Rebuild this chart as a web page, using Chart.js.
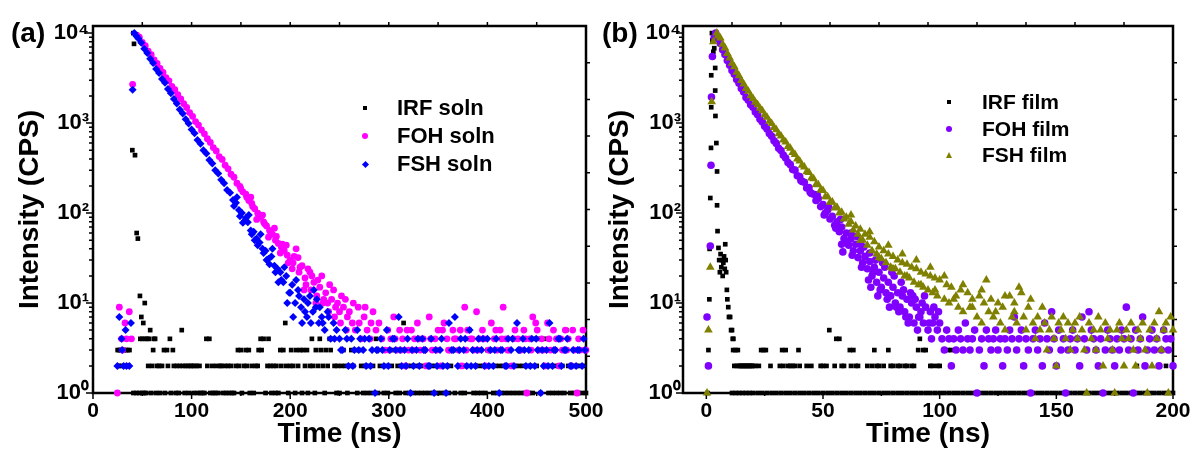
<!DOCTYPE html>
<html>
<head>
<meta charset="utf-8">
<title>Decay curves</title>
<script src="https://cdn.jsdelivr.net/npm/chart.js@4.4.1/dist/chart.umd.min.js"></script>
<style>
  html, body { margin: 0; padding: 0; background: #fff; }
  body { position: relative; width: 1193px; height: 451px; overflow: hidden;
         font-family: 'Liberation Sans', Arial, sans-serif; font-weight: bold; color: #000; }
  .box { position: absolute; top: 0; height: 451px; }
  #boxA { left: 0; width: 620px; }
  #boxB { left: 596px; width: 597px; }
  .panel { position: absolute; top: 17px; font-size: 28px; line-height: 32px; }
  .legend { position: absolute; }
  .legend div { position: relative; white-space: nowrap; }
  .legend i { position: absolute; top: 50%; display: block; }
  .sq { width: 4px; height: 4px; background: #000; margin-top: -2px; left: 8px; }
  .ci { width: 6px; height: 6px; border-radius: 50%; margin-top: -3px; left: 7px; }
  .di { width: 5px; height: 5px; transform: rotate(45deg); margin-top: -2.5px; left: 7.5px; }
  .tr { width: 0; height: 0; border-left: 3.5px solid transparent; border-right: 3.5px solid transparent;
        border-bottom: 6px solid #808000; margin-top: -3px; left: 6.5px; }
</style>
</head>
<body>
<div class="box" id="boxA"><canvas id="chartA"></canvas></div>
<div class="box" id="boxB"><canvas id="chartB"></canvas></div>

<div class="panel" style="left:11px">(a)</div>
<div class="panel" style="left:602px">(b)</div>

<div class="legend" style="left:355px; top:94px; font-size:22px">
  <div style="height:28px; line-height:28px; padding-left:42px"><i class="sq"></i>IRF soln</div>
  <div style="height:28px; line-height:28px; padding-left:42px"><i class="ci" style="background:#ff00ff"></i>FOH soln</div>
  <div style="height:28px; line-height:28px; padding-left:42px"><i class="di" style="background:#0000ff"></i>FSH soln</div>
</div>
<div class="legend" style="left:939px; top:89px; font-size:21px">
  <div style="height:26.5px; line-height:26.5px; padding-left:43px"><i class="sq"></i>IRF film</div>
  <div style="height:26.5px; line-height:26.5px; padding-left:43px"><i class="ci" style="background:#8000ff"></i>FOH film</div>
  <div style="height:26.5px; line-height:26.5px; padding-left:43px"><i class="tr"></i>FSH film</div>
</div>

<script>
// ---- data: [time (ns), counts] ----

// (a) solution
const irfSoln = [
  [25,3],[26,2],[27,3],[28,3],[29,2],[30,3],[31,3],[33,3],[34,2],[35,3],[36,2],[37,3],
  [39.9,500],[40.9,10000],[41.6,7600],[42.6,440],[44.3,60],[45.5,52],[47.6,12],[49,7],[51,6],[52.5,10],
  [48,4],[50,4],[53,4],[55,4],[58,5],[62,4],[41,1],[44,1],[47,1],[50,1],[52,1],
  [54,1],[56,2],[57,4],[59,1],[60,2],[61,3],[63,4],[64,1],[65,2],[67,2],[68,1],[70,2],[72,3],[73,1],[75,3],
  [76,2],[78,4],[79,1],[81,3],[82,2],[84,1],[85,2],[87,1],[88,2],[90,5],[91,2],[93,1],[94,2],[96,2],[97,1],
  [99,2],[100,2],[102,1],[103,2],[105,2],[106,1],[108,2],[109,1],[111,1],[113,1],[115,4],[116,2],[118,4],
  [119,1],[121,2],[122,1],[124,1],[125,2],[127,1],[129,2],[130,2],[132,1],[134,2],[135,1],[137,2],[138,1],
  [140,2],[141,1],[143,1],[145,2],[147,3],[148,2],[150,3],[151,1],[153,2],[155,3],[156,2],[158,3],[159,1],
  [161,2],[163,1],[165,2],[167,2],[168,3],[170,4],[171,3],[173,4],[175,1],[177,2],[178,4],[180,2],[181,1],
  [183,2],[185,1],[186,2],[188,1],[190,3],[191,2],[193,3],[195,6],[196,2],[198,1],[200,2],[201,3],[203,2],
  [205,1],[206,3],[208,2],[210,3],[212,1],[213,3],[215,2],[217,3],[218,1],[220,2],[222,4],[223,2],[225,1],
  [226,3],[228,2],[230,4],[231,3],[233,2],[235,1],[236,3],[238,2],[240,4],[241,3],[243,4],[245,2],[247,1],
  [248,2],[250,1],[252,2],[254,3],[256,2],[258,1],[260,2],[262,3],[264,2],[266,3],[268,1],[270,3],[272,2],
  [274,1],[276,2],[278,1],[280,2],[282,1],[284,2],[287,4],[289,1],[291,2],[293,4],[295,1],[297,2],[299,1],
  [301,3],[303,2],[305,3],[307,1],[309,2],[311,1],[313,2],[315,6],[317,1],[319,2],[321,1],[323,2],[325,1],
  [327,2],[329,1],[331,2],[333,1],[335,2],[337,1],[339,2],[341,1],[343,2],[345,1],[347,2],[349,1],[351,2],
  [353,1],[355,2],[357,1],[359,2],[361,1],[363,2],[365,3],[367,1],[369,3],[371,2],[373,1],[375,2],[377,1],
  [379,2],[381,4],[382,5],[384,4],[386,1],[388,2],[390,1],[392,2],[394,1],[396,2],[398,1],[400,3],[402,2],
  [404,3],[406,1],[408,2],[410,1],[412,2],[414,1],[416,2],[418,1],[420,2],[422,1],[424,2],[426,1],[428,2],
  [430,1],[432,2],[434,1],[436,2],[438,1],[440,2],[442,1],[444,2],[446,1],[448,4],[450,2],[452,4],[454,1],
  [456,3],[458,4],[460,2],[462,1],[464,2],[466,1],[468,2],[470,1],[472,2],[474,1],[476,2],[478,1],[480,5],
  [482,2],[484,1],[486,2],[488,1],[490,2],[492,1],[494,2],[496,1],[498,2],[500,1]
];

const fohSoln = [
  [24.7,1],[26.7,9],[29,4],[30,3],[32.5,6],[34,4],[36.8,8],[39,4],[40.2,2700],
  [44.3,9500],[47,9000],[50,7900],[53,7250],[56,6300],[59,5750],[62,5050],[65,4600],[68,4050],[71,3650],
  [74,3200],[77,2950],[80,2550],[83,2350],[86,2070],[89,1860],[92,1640],[95,1490],[98,1310],[101,1190],
  [104,1040],[107,950],[110,840],[113,760],[116,670],[119,610],[122,535],[125,490],[128,425],[131,395],
  [134,340],[137,310],[140,270],[143,250],[146,215],[149,198],[152,172],[155,162],[158,138],[161,128],
  [164,112],[167,100],[170,90],[173,80],[176,72],[179,64],[182,58],[185,50],[188,46],[191,42],[194,38],
  [197,34],[200,30],[203,28],[206,40],[209,22],[212,26],[215,19],[218,24],[221,14],[224,17],[227,12],
  [230,15],[233,10],[236,13],[239,8],[242,11],[245,7],[248,10],[251,6],[254,9],[257,5],[260,8],[263,6],
  [266,5],[269,9],[272,4],[275,7],[278,5],[281,4],[284,8],[287,5],[290,6],[293,4],[296,3],
  [150,185],[156,150],[162,118],[168,96],[174,76],[180,62],[186,55],[192,45],[198,28],[204,33],[210,25],
  [216,16],[222,20],[228,18],[234,11],[240,16],[246,9],[252,12],[258,7],[264,10],[270,6],[276,9],[282,6],
  [160,150],[166,85],[172,95],[178,54],[184,68],[190,36],[196,44],[202,24],[208,32],[214,14],[220,22],
  [226,10],[232,20],[238,10],[244,14],[250,8],[256,11],
  [299,5],[302,4],[305,7],[308,3],[311,5],[314,4],[317,2],[320,3],[323,5],[326,4],[329,6],[332,3],[335,4],
  [338,2],[341,7],[344,3],[347,4],[350,5],[353,2],[356,6],[359,4],[362,3],[365,5],[368,4],[371,3],[374,2],
  [377,9],[380,5],[383,4],[386,3],[389,8],[392,4],[395,5],[398,2],[401,3],[404,6],[407,4],[410,3],[413,5],
  [416,9],[419,4],[422,3],[425,2],[428,5],[431,4],[434,3],[437,5],[440,1],[443,4],[446,7],[449,6],[452,3],
  [455,4],[458,2],[461,6],[464,3],[467,5],[470,4],[473,2],[476,3],[479,5],[482,4],[485,2],[488,3],[491,1],
  [494,3],[497,5],[500,3],
  [300.5,3],[306.5,4],[312.5,3],[318.5,5],[324.5,3],[330.5,4],[336.5,3],[342.5,4],[348.5,3],[354.5,5],
  [360.5,3],[366.5,4],[372.5,5],[378.5,3],[384.5,4],[390.5,3],[396.5,4],[402.5,3],[408.5,5],[414.5,4],
  [420.5,3],[426.5,4],[432.5,3],[438.5,4],[444.5,3],[450.5,5],[456.5,3],[462.5,4],[468.5,3],[474.5,4],
  [480.5,3],[486.5,5],[492.5,4],[498.5,3]
];

const fshSoln = [
  [24.7,2],[26.7,7],[29,4],[29.6,3],[31,2],[33,5],[34,2],[36.8,2],[38.5,6],[40.2,2350],
  [41.9,10000],[44,9300],[46,8700],[49,7800],[52,6700],[55,6000],[58,5200],[61,4650],[64,4000],[67,3600],
  [70,3100],[73,2800],[76,2400],[79,2150],[82,1850],[85,1650],[88,1420],[91,1280],[94,1100],[97,990],
  [100,850],[103,770],[106,650],[109,590],[112,500],[115,460],[118,390],[121,355],[124,300],[127,275],
  [130,235],[133,215],[136,180],[139,168],[142,140],[145,130],[148,108],[151,100],[154,82],[157,79],
  [160,64],[163,62],[166,52],[169,47],[172,40],[175,38],[178,31],[181,33],[184,26],[187,24],[190,22],
  [193,17],[196,20],[199,13],[202,16],[205,10],[208,14],[211,9],[214,11],[217,7],[220,12],[223,8],[226,9],
  [229,6],[232,7],[235,5],[238,8],[241,4],[244,6],[247,5],
  [143,120],[149,92],[155,88],[161,58],[167,44],[173,36],[179,27],[185,22],[191,18],[197,10],[203,7],
  [209,12],[215,8],[221,6],[227,11],[233,6],[239,7],[245,4],
  [146,150],[152,78],[158,95],[164,50],[170,58],[176,30],[182,40],[188,17],[194,25],[200,13],[206,18],
  [212,6],[218,10],[224,14],[230,9],
  [250,4],[253,3],[256,5],[259,2],[262,4],[265,3],[268,5],[271,4],[274,3],[277,2],[280,4],[283,3],[286,1],
  [289,3],[292,4],[295,2],[298,5],[301,3],[304,4],[307,3],[310,7],[313,2],[316,3],[319,4],[322,1],[325,2],
  [328,3],[331,2],[334,4],[337,3],[340,2],[343,4],[346,1],[349,2],[352,3],[355,2],[358,1],[361,6],[364,3],
  [367,7],[370,2],[373,4],[376,3],[379,2],[382,5],[385,3],[388,2],[391,4],[394,3],[397,2],[400,4],[403,3],
  [406,2],[409,4],[412,1],[415,3],[418,2],[421,4],[424,3],[427,2],[430,6],[433,3],[436,4],[439,2],[442,3],
  [445,4],[448,2],[451,3],[454,1],[457,2],[460,3],[463,6],[466,2],[469,3],[472,4],[475,2],[478,3],[481,4],
  [484,2],[487,3],[490,2],[493,3],[496,2],[499,3],
  [251.5,3],[257.5,4],[263.5,2],[269.5,3],[275.5,4],[281.5,2],[287.5,3],[293.5,3],[299.5,2],[305.5,4],
  [311.5,3],[317.5,2],[323.5,3],[329.5,4],[335.5,3],[341.5,2],[347.5,3],[353.5,4],[359.5,2],[365.5,3],
  [371.5,3],[377.5,4],[383.5,2],[389.5,3],[395.5,4],[401.5,2],[407.5,3],[413.5,3],[419.5,2],[425.5,4],
  [431.5,3],[437.5,3],[443.5,2],[449.5,4],[455.5,3],[461.5,2],[467.5,3],[473.5,4],[479.5,3],[485.5,2],
  [491.5,3],[497.5,4]
];

// (b) film
const irfFilm = [
  [0.5,1],[0.9,3],[1.3,11],[1.4,40],[1.7,147],[2.0,530],[2.1,1500],[2.1,3400],[2.4,10000],[2.6,8300],
  [3.0,6200],[3.4,6800],[3.8,4100],[3.8,2300],[3.9,1200],[4.3,600],[4.6,290],[4.6,122],[4.8,63],[5.2,41],
  [5.5,30],[5.8,22],[6.1,35],[6.4,25],[6.7,30],[7.0,20],[7.3,28],[7.6,33],[7.9,24],[8.1,45],[8.3,30],
  [8.5,22],[8.8,14],[9.0,11],[9.4,9],[9.7,7],[10.2,7],[10.6,5],[11,5],[11.3,4],[11.6,4],
  [11.5,3],[12,2],[12.5,3],[13,2],[13.5,3],[14,2],[14.5,2],[15,2],[15.5,2],[16,2],[16.5,2],[17,2],
  [17.5,2],[18,2],[18.5,2],[19,2],[19.5,2],[20,2],[21,2],[22.5,2],[23.5,3],[24.5,3],[25.5,3],[27.5,2],
  [31.5,2],[32.5,3],[33,2],[34,3],[35,2],[36,2],[37,2],[38,2],[39.5,3],[40,2],[43,2],[45,2],[49,2],[50,2],
  [51.5,2],[52.7,5],[55,2],[55.7,4],[57,4],[58,2],[59,2],[61.5,3],[62,2],[63,3],[64,2],[65,2],[69,2],
  [71,2],[72,3],[73,2],[74,2],[76,2],[78,3],[79,2],[80,2],[82,2],[83,2],[85,2],[86,2],[88,2],[89,2],
  [90.8,3],[91.5,4],[93,3],[94,3],[96,2],[97,2],[99,2],[100,2],[103.6,3],[105,3],[135.6,2],[184,3],
  [184.5,2],[197,2],
  [11,1],[12.5,1],[14,1],[15.5,1],[17,1],[18.5,1],[20,1],[22,1],[24,1],[26,1],[28,1],[30,1],[32,1],
  [34,1],[36,1],[38,1],[40,1],[42,1],[44,1],[46,1],[48,1],[50,1],[52,1],[54,1],[56,1],[58,1],[60,1],
  [62,1],[64,1],[66,1],[68,1],[70,1],[72,1],[74,1],[76,1],[78,1],[80,1],[82,1],[84,1],[86,1],[88,1],
  [90,1],[92,1],[94,1],[96,1],[98,1],[100,1],[102,1],[104,1],[106,1],[108,1],[110,1],[112,1],[114,1],
  [116,1],[118,1],[120,1],[122,1],[124,1],[126,1],[128,1],[130,1],[132,1],[134,1],[136,1],[138,1],
  [140,1],[142,1],[144,1],[146,1],[148,1],[150,1],[152,1],[154,1],[156,1],[158,1],[160,1],[162,1],
  [164,1],[166,1],[168,1],[170,1],[172,1],[174,1],[176,1],[178,1],[180,1],[182,1],[184,1],[186,1],
  [188,1],[190,1],[192,1],[194,1],[196,1],[198,1],[200,1]
];

const fohFilm = [
  [0.3,7],[0.9,2],[1.7,43],[2.0,340],[2.2,1950],[2.6,5500],[3.4,9000],
  [4,10000],[5,8600],[6,7650],[7,6550],[8,5800],[9,4950],[10,4400],[11,3850],[12,3500],[13,3050],
  [14,2780],[15,2420],[16,2210],[17,1920],[18,1800],[19,1600],[20,1500],[21,1330],[22,1240],[23,1100],
  [24,1030],[25,920],[26,860],[27,765],[28,715],[29,635],[30,595],[31,525],[32,495],[33,440],[34,410],
  [35,365],[36,345],[37,305],[38,300],[39,260],[40,255],[41,225],[42,220],[43,190],[44,192],[45,165],
  [46,162],[47,138],[48,145],[49,118],[50,124],[51,100],[52,108],[53,86],[54,92],[55,73],[56,80],[57,62],
  [58,70],[59,52],[60,60],[61,44],[62,52],[63,38],[64,45],[65,32],[66,38],[67,28],[68,33],[69,24],[70,29],
  [71,20],[72,25],[73,17],[74,22],[75,15],[76,19],[77,13],[78,17],[79,12],[80,15],[81,10],[82,13],[83,9],
  [84,12],[85,8],[86,11],[87,7],[88,10],[89,6],[90,9],[91,7],[92,8],[93,6],[94,9],[95,5],[96,8],[97,6],
  [98,7],[99,5],[100,6],
  [40.5,230],[44.5,170],[47.5,160],[50.5,95],[52.5,115],[55.5,68],[57.5,85],[58.5,37],[60.5,48],
  [62.5,34],[64.5,55],[66.5,25],[67.5,42],[69.5,18],[70.5,15],[72.5,30],[74.5,14],[76.5,25],[78.5,9],
  [80.5,20],[82.5,8],[84.5,14],[86.5,6],[88.5,12],[90.5,5],[92.5,10],[96.5,4],
  [58,45],[62,60],[66,45],[70,36],[71.5,22],[73.5,12],[75.5,28],[77.5,11],[79.5,22],[81.5,9],[83.5,17],
  [85.5,7],[87.5,13],[89.5,11],[91.5,7],[93.5,12],[95.5,6],[97.5,9],[99.5,8],
  [101,4],[102,3],[103,5],[104,4],[105,2],[106,4],[107,3],[108,5],[109,4],[110,3],[111,6],[112,4],[113,3],
  [114,4],[115,5],[116,1],[117,3],[118,4],[119,2],[120,5],[121,4],[122,3],[123,4],[124,5],[125,3],[126,4],
  [127,2],[128,4],[129,3],[130,5],[131,4],[132,7],[133,3],[134,4],[135,5],[136,2],[137,4],[138,3],[139,1],
  [140,4],[141,5],[142,3],[143,4],[144,2],[145,6],[146,4],[147,3],[148,8],[149,4],[150,2],[151,5],[152,3],
  [153,4],[154,1],[155,3],[156,4],[157,5],[158,3],[159,4],[160,2],[161,7],[162,4],[163,3],[164,8],[165,5],
  [166,4],[167,3],[168,2],[169,4],[170,1],[171,3],[172,5],[173,4],[174,3],[175,2],[176,4],[177,3],[178,5],
  [179,4],[180,9],[181,3],[182,4],[183,1],[184,5],[185,3],[186,4],[187,7],[188,2],[189,3],[190,4],[191,5],
  [192,3],[193,4],[194,2],[195,3],[196,5],[197,4],[198,3],[199,4],[200,2]
];

const fshFilm = [
  [0.3,1],[0.9,5],[1.7,25],[2.3,1730],[3.0,8000],[4.5,10000],
  [5,9300],[6,8800],[7,7500],[8,6850],[9,5950],[10,5300],[11,4620],[12,4230],[13,3680],[14,3350],
  [15,2980],[16,2720],[17,2420],[18,2260],[19,2010],[20,1880],[21,1710],[22,1600],[23,1460],[24,1370],
  [25,1240],[26,1165],[27,1050],[28,990],[29,895],[30,845],[31,760],[32,720],[33,650],[34,615],[35,550],
  [36,525],[37,470],[38,447],[39,398],[40,380],[41,340],[42,325],[43,288],[44,282],[45,245],[46,240],
  [47,208],[48,206],[49,180],[50,178],[51,152],[52,152],[53,132],[54,133],[55,114],[56,116],[57,100],
  [58,102],[59,86],[60,90],[61,75],[62,80],[63,65],[64,72],[65,58],[66,66],[67,50],[68,58],[69,44],
  [70,54],[71,38],[72,48],[73,35],[74,42],[75,31],[76,38],[77,28],[78,35],[79,25],[80,33],[81,24],
  [82,30],[83,22],[84,28],[85,20],[86,27],[87,19],[88,25],[89,17],[90,24],[91,16],[92,22],[93,15],
  [94,21],[95,14],[96,20],[97,13],[98,19],[99,12],[100,18],
  [62,95],[66,50],[70,62],[74,32],[78,44],[80,24],[84,35],[86,20],[90,30],[92,16],[96,25],[98,14],
  [102,20],[106,11],[110,16],[114,9],[118,14],[120,18],[124,8],[128,12],[132,10],[134,15],[139,11],
  [102,11],[103,16],[104,10],[105,15],[107,12],[108,9],[109,14],[110,8],[112,13],[113,9],[114,11],
  [116,7],[117,12],[118,6],[119,10],[121,8],[122,11],[123,7],[125,10],[126,6],[127,9],[128,5],[130,12],
  [131,7],[132,8],[133,6],[135,13],[136,7],[137,5],[138,9],
  [140,6],[141,4],[142,7],[143,5],[144,9],[145,6],[146,3],[147,5],[148,7],[149,4],[150,2],[151,6],
  [152,5],[153,7],[154,4],[155,6],[156,3],[157,5],[158,6],[159,4],[160,7],[161,5],[162,3],[163,1],
  [164,6],[165,4],[166,5],[167,3],[168,7],[169,5],[170,2],[171,6],[172,4],[173,5],[174,3],[175,1],
  [176,5],[177,6],[178,4],[179,2],[180,5],[181,4],[182,6],[183,3],[184,2],[185,5],[186,4],[187,6],
  [188,3],[189,1],[190,5],[191,2],[192,6],[193,4],[194,8],[195,3],[196,5],[197,6],[198,1],[199,7],[200,5]
];

// axes
const yTicks = [1, 10, 100, 1000, 10000];
const yTickLabels = ['10⁰', '10¹', '10²', '10³', '10⁴'];
const xTicksA = [0, 100, 200, 300, 400, 500];
const xTicksB = [0, 50, 100, 150, 200];

Chart.defaults.font.family = "'Liberation Sans', Arial, sans-serif";
Chart.defaults.font.weight = 'bold';
Chart.defaults.color = '#000';

// frame + tick marks (Origin style: box, ticks pointing out, mirrored top/right with 10 divisions)
const axisBox = {
  id: 'axisBox',
  beforeDatasetsDraw(chart) {
    const {ctx, chartArea: a} = chart;
    const x = chart.scales.x, y = chart.scales.y;
    ctx.save();
    ctx.strokeStyle = '#000';
    ctx.lineWidth = 2.5;
    ctx.strokeRect(a.left, a.top, a.right - a.left, a.bottom - a.top);
    ctx.lineWidth = 1.5;
    ctx.beginPath();
    x.ticks.forEach((t, i) => {
      const px = x.getPixelForValue(t.value);
      ctx.moveTo(px, a.bottom); ctx.lineTo(px, a.bottom + 6);
      if (i < x.ticks.length - 1) {
        const mid = x.getPixelForValue((t.value + x.ticks[i + 1].value) / 2);
        ctx.moveTo(mid, a.bottom); ctx.lineTo(mid, a.bottom + 3);
      }
    });
    for (let e = 0; e <= 4; e++) {
      for (let m = 1; m <= 9; m++) {
        const v = m * Math.pow(10, e);
        if (v > y.max) break;
        const py = y.getPixelForValue(v);
        ctx.moveTo(a.left, py); ctx.lineTo(a.left - (m === 1 ? 7 : 4), py);
      }
    }
    const l0 = Math.log10(y.min), l1 = Math.log10(y.max);
    for (let i = 1; i < 10; i++) {
      const px = x.getPixelForValue(x.min + (x.max - x.min) * i / 10);
      ctx.moveTo(px, a.top); ctx.lineTo(px, a.top - 4);
      const py = y.getPixelForValue(Math.pow(10, l0 + (l1 - l0) * i / 10));
      ctx.moveTo(a.right, py); ctx.lineTo(a.right + 4, py);
    }
    ctx.stroke();
    ctx.restore();
  }
};

function buildPanel(canvasId, o) {
  return new Chart(document.getElementById(canvasId), {
    type: 'scatter',
    data: {
      datasets: o.series.map(s => ({
        label: s.label,
        data: s.points.map(p => ({x: p[0], y: p[1]})),
        pointStyle: s.style,
        pointRadius: s.radius,
        backgroundColor: s.color,
        borderWidth: 0,
        order: s.order,
        clip: false
      }))
    },
    options: {
      responsive: true,
      maintainAspectRatio: false,
      animation: false,
      events: [],
      layout: {padding: {top: 26, right: o.padRight, left: 0, bottom: 0}},
      plugins: {legend: {display: false}, tooltip: {enabled: false}},
      scales: {
        x: {
          type: 'linear', min: o.xMin, max: o.xMax,
          afterBuildTicks: s => { s.ticks = o.xTicks.map(v => ({value: v})); },
          afterFit: s => { s.height = 58; s.paddingLeft = 0; s.paddingRight = 0; },
          grid: {display: false, drawTicks: false},
          border: {display: false},
          ticks: {padding: 6, autoSkip: false, maxRotation: 0, color: '#000', font: {size: 21, weight: 'bold'}},
          title: {display: true, text: 'Time (ns)', color: '#000', font: {size: 28, weight: 'bold'},
                  padding: {top: 0, bottom: 0}}
        },
        y: {
          type: 'logarithmic', min: 1, max: 12000,
          afterBuildTicks: s => { s.ticks = yTicks.map(v => ({value: v})); },
          afterFit: s => { s.width = o.yWidth; s.paddingTop = 0; s.paddingBottom = 0; },
          grid: {display: false, drawTicks: false},
          border: {display: false},
          ticks: {padding: o.yLabelPad, autoSkip: false, color: '#000', font: {size: 22, weight: 'bold'},
                  callback: (v, i) => yTickLabels[i]},
          title: {display: true, text: 'Intensity (CPS)', color: '#000', font: {size: 28, weight: 'bold'},
                  padding: {top: o.titlePad, bottom: 0}}
        }
      }
    },
    plugins: [axisBox]
  });
}

buildPanel('chartA', {
  xMin: 0, xMax: 500, xTicks: xTicksA, yWidth: 93, padRight: 34, yLabelPad: 4, titlePad: 13,
  series: [
    {label: 'IRF soln', points: irfSoln, style: 'rect', radius: 3.3, color: '#000000', order: 3},
    {label: 'FOH soln', points: fohSoln, style: 'circle', radius: 3.4, color: '#ff00ff', order: 2},
    {label: 'FSH soln', points: fshSoln, style: 'rectRot', radius: 4, color: '#0000ff', order: 1}
  ]
});

buildPanel('chartB', {
  xMin: -10, xMax: 200, xTicks: xTicksB, yWidth: 87, padRight: 20, yLabelPad: 2, titlePad: 7,
  series: [
    {label: 'IRF film', points: irfFilm, style: 'rect', radius: 3.3, color: '#000000', order: 3},
    {label: 'FOH film', points: fohFilm, style: 'circle', radius: 3.8, color: '#8000ff', order: 2},
    {label: 'FSH film', points: fshFilm, style: 'triangle', radius: 5, color: '#808000', order: 1}
  ]
});
</script>
</body>
</html>
